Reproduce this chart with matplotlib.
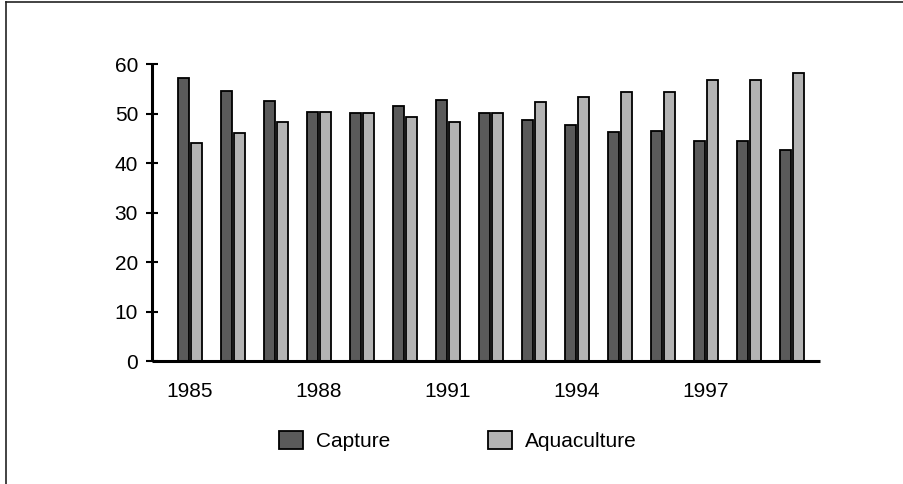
import numpy as np
import matplotlib.pyplot as plt
from matplotlib.lines import Line2D

plt.rcParams["font.family"] = ["Liberation Sans", "DejaVu Sans"]

years = [1985, 1986, 1987, 1988, 1989, 1990, 1991, 1992,
         1993, 1994, 1995, 1996, 1997, 1998, 1999]
capture = [57.3, 54.7, 52.6, 50.3, 50.2, 51.5, 52.7, 50.2,
           48.7, 47.7, 46.4, 46.6, 44.6, 44.6, 42.7]
aquaculture = [44.1, 46.1, 48.3, 50.3, 50.2, 49.4, 48.3, 50.2,
               52.4, 53.5, 54.5, 54.5, 56.8, 56.9, 58.3]
shown_years = [1985, 1988, 1991, 1994, 1997]
yticks = [0, 10, 20, 30, 40, 50, 60]

fig = plt.figure(figsize=(9.04, 4.84), dpi=100)
ax = fig.add_axes([0.1676, 0.2531, 0.9071 - 0.1676, 0.8671 - 0.2531])

x = np.arange(len(years))
w = 0.256
ax.bar(x - 0.144, capture, w, color="#5a5a5a", edgecolor="black",
       linewidth=1.3, label="Capture")
ax.bar(x + 0.144, aquaculture, w, color="#b3b3b3", edgecolor="black",
       linewidth=1.3, label="Aquaculture")

ax.set_xlim(-0.895, 14.65)
ax.set_ylim(0, 60)
ax.set_yticks(yticks)
ax.set_xticks([years.index(y) for y in shown_years])
ax.set_xticklabels([str(y) for y in shown_years])

for s in ["top", "right"]:
    ax.spines[s].set_visible(False)
for s in ["left", "bottom"]:
    ax.spines[s].set_linewidth(2.2)
    ax.spines[s].set_capstyle("butt")

ax.tick_params(axis="y", direction="inout", length=8, width=1.5,
               pad=5.7, labelsize=15)
ax.tick_params(axis="x", length=0, pad=15, labelsize=15)

fig.legend(loc="center", bbox_to_anchor=(0.5065, 0.0888), ncol=2,
           frameon=False, fontsize=15, handlelength=1.15, handleheight=1.0,
           handletextpad=0.64, columnspacing=4.7, borderpad=0)

# outer frame (only top and left edges are visible)
fig.add_artist(Line2D([6 / 904, 1], [1 - 2 / 484, 1 - 2 / 484],
                      transform=fig.transFigure, color="#222222", linewidth=1.2))
fig.add_artist(Line2D([6 / 904, 6 / 904], [0, 1 - 2 / 484],
                      transform=fig.transFigure, color="#222222", linewidth=1.2))

fig.savefig("out.png", dpi=100)
